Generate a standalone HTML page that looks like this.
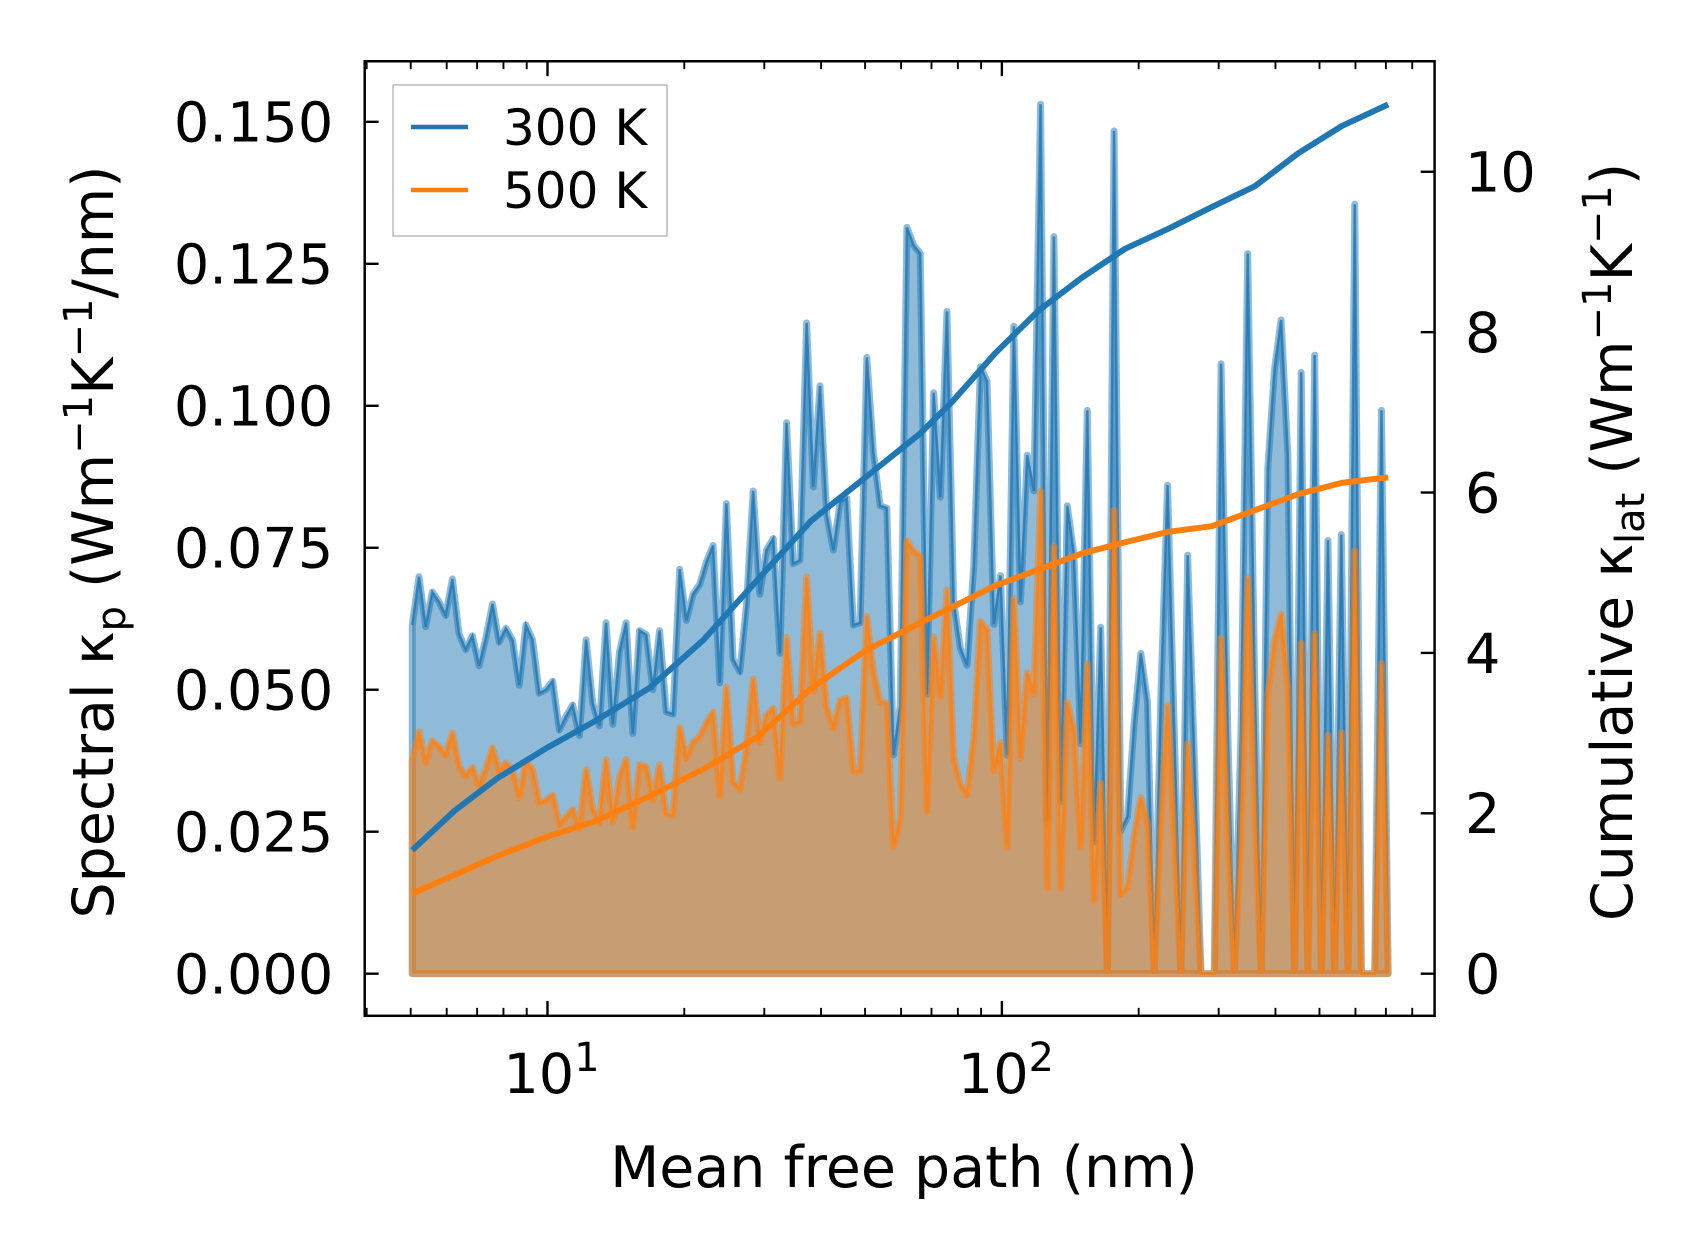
<!DOCTYPE html>
<html><head><meta charset="utf-8"><style>
html,body{margin:0;padding:0;background:#fff;}
svg{display:block;font-family:"DejaVu Sans","Liberation Sans",sans-serif;}
</style></head><body>
<svg id="chart" width="1697" height="1254" viewBox="0 0 1697 1254" xmlns="http://www.w3.org/2000/svg">
<rect width="1697" height="1254" fill="#fff"/>
<g transform="matrix(0.9945 0 0 0.9937 0.12 1.84)">
<g id="plot"></g>
<g id="axes"></g>
</g>
<g>
<rect x="393" y="85" width="274" height="151" fill="#fff" fill-opacity="0.8" stroke="#bbb" stroke-width="1.5"/>
<line x1="411" y1="127" x2="468" y2="127" stroke="#1f77b4" stroke-width="4.5"/>
<text x="503" y="145" font-size="50">300 K</text>
<line x1="411" y1="190" x2="468" y2="190" stroke="#ff7f0e" stroke-width="4.5"/>
<text x="503" y="208" font-size="50">500 K</text>
</g>
<text x="904" y="1187" font-size="57" text-anchor="middle">Mean free path (nm)</text>
<text transform="translate(113,542) rotate(-90)" font-size="57" text-anchor="middle">Spectral κ<tspan font-size="40" dy="12">p</tspan><tspan dy="-12"> (Wm</tspan><tspan font-size="40" dy="-21">−1</tspan><tspan dy="21">K</tspan><tspan font-size="40" dy="-21">−1</tspan><tspan dy="21">/nm)</tspan></text>
<text transform="translate(1632,542) rotate(-90)" font-size="57" text-anchor="middle">Cumulative κ<tspan font-size="40" dy="12">lat</tspan><tspan dy="-12"> (Wm</tspan><tspan font-size="40" dy="-21">−1</tspan><tspan dy="21">K</tspan><tspan font-size="40" dy="-21">−1</tspan><tspan dy="21">)</tspan></text>
</svg>
<script>
// ---- data ----
const mfpStart = 5.04;   // nm, first spectral bin
const mfpEnd = 708;      // nm, last spectral bin
const spectral300 = [
.0614,.0699,.0611,.0672,.0655,.0631,.0695,.0598,.0571,.0595,
.0542,.0591,.0651,.0584,.0608,.0587,.0508,.0614,.0588,.0494,
.0500,.0515,.0429,.0453,.0473,.0419,.0588,.0476,.0436,.0618,
.0439,.0567,.0618,.0423,.0604,.0597,.0500,.0604,.0461,.0457,
.0712,.0622,.0668,.0685,.0725,.0754,.0512,.0828,.0554,.0532,
.0650,.0850,.0668,.0746,.0766,.0564,.0970,.0722,.0728,.1146,
.0857,.1035,.0809,.0746,.0830,.0837,.0614,.0618,.1085,.0917,
.0824,.0820,.0385,.0472,.1314,.1283,.1268,.0492,.1023,.0839,
.1166,.0655,.0574,.0543,.0717,.1069,.1043,.0615,.0701,.0385,
.1140,.0655,.0913,.0850,.1531,.0268,.1298,.0303,.0824,.0737,
.0405,.0992,.0232,.0610,0,.1484,.0252,.0277,.0441,.0564,
.0479,0,.0492,.0860,.0431,0,.0737,.0381,0,0,
0,.1074,.0431,0,.0431,.1268,.0533,0,.0890,.1064,
.1151,.0911,0,.1059,0,.1089,0,.0763,0,.0773,
0,.1355,0,0,0,.0992,0];
const spectral500 = [
.0375,.0426,.0373,.0410,.0400,.0385,.0424,.0365,.0348,.0363,
.0331,.0361,.0397,.0356,.0371,.0358,.0310,.0375,.0359,.0301,
.0305,.0314,.0262,.0276,.0289,.0256,.0359,.0290,.0266,.0377,
.0268,.0346,.0377,.0258,.0368,.0364,.0305,.0368,.0281,.0279,
.0434,.0379,.0407,.0418,.0442,.0460,.0312,.0505,.0338,.0325,
.0397,.0519,.0407,.0455,.0467,.0344,.0592,.0440,.0444,.0699,
.0497,.0600,.0469,.0433,.0481,.0485,.0356,.0358,.0629,.0532,
.0478,.0476,.0223,.0274,.0762,.0744,.0735,.0285,.0593,.0487,
.0676,.0380,.0333,.0315,.0416,.0620,.0605,.0357,.0407,.0223,
.0661,.0380,.0530,.0493,.0850,.0150,.0753,.0150,.0478,.0427,
.0223,.0546,.0128,.0336,0,.0816,.0139,.0152,.0243,.0310,
.0263,0,.0271,.0473,.0237,0,.0405,.0210,0,0,
0,.0591,.0237,0,.0237,.0697,.0293,0,.0490,.0585,
.0633,.0501,0,.0582,0,.0599,0,.0420,0,.0425,
0,.0745,0,0,0,.0546,0];
const cumMfp = [5.04,6.24,7.77,10,12.73,16.74,22.02,28.96,38.1,50.1,65.9,77.7,96.8,120.5,150,186.7,232.6,289.6,360.6,449,559.5,708];
const cum300 = [1.54,2.03,2.44,2.82,3.15,3.56,4.16,4.91,5.65,6.19,6.73,7.13,7.74,8.27,8.68,9.04,9.29,9.56,9.82,10.23,10.57,10.84];
const cum500 = [1.00,1.23,1.47,1.71,1.90,2.21,2.55,2.95,3.56,4.03,4.37,4.57,4.84,5.04,5.24,5.38,5.51,5.58,5.78,5.98,6.12,6.19];
const leftTicks = [0,0.025,0.05,0.075,0.1,0.125,0.15];
const leftTickLabels = ["0.000","0.025","0.050","0.075","0.100","0.125","0.150"];
const rightTicks = [0,2,4,6,8,10];
const xMajorTicks = [10,100];
const xMajorExp = ["1","2"];

// ---- axes geometry ----
const L=366.6,R=1442.4,T=59.8,B=1020.4;
const X = v => 550.4 + (Math.log10(v)-1)*456.9;
const YL = v => 978 - v*5715;
const YR = v => 978 - v*80.7;
const NS="http://www.w3.org/2000/svg";
const plot=document.getElementById('plot'), axes=document.getElementById('axes');
function mk(tag,attrs,parent){const e=document.createElementNS(NS,tag);for(const k in attrs)e.setAttribute(k,attrs[k]);parent.appendChild(e);return e;}
function binX(i,n){return mfpStart*Math.pow(mfpEnd/mfpStart,i/(n-1));}

function drawSpectral(vals,color,name){
  const n=vals.length;
  let pts=vals.map((v,i)=>X(binX(i,n)).toFixed(1)+','+YL(v).toFixed(1));
  const poly=[X(binX(0,n)).toFixed(1)+','+YL(0)].concat(pts,[X(binX(n-1,n)).toFixed(1)+','+YL(0)]).join(' ');
  const f=mk('polygon',{points:poly,fill:color,'fill-opacity':0.5,stroke:color,'stroke-opacity':0.5,'stroke-width':7,'stroke-linejoin':'round'},plot);
  
  
  const l=mk('polyline',{points:pts.join(' '),fill:'none',stroke:color,'stroke-opacity':0.8,'stroke-width':2.5},plot);
  
  
}
drawSpectral(spectral300,'#1f77b4','spectral-300k');
drawSpectral(spectral500,'#ff7f0e','spectral-500k');

function drawCum(vals,color,name){
  const pts=vals.map((v,i)=>X(cumMfp[i]).toFixed(1)+','+YR(v).toFixed(1)).join(' ');
  const l=mk('polyline',{points:pts,fill:'none',stroke:color,'stroke-width':6,'stroke-linejoin':'round'},plot);
  
  
}
drawCum(cum300,'#1f77b4','cumulative-300k');
drawCum(cum500,'#ff7f0e','cumulative-500k');

// frame
const fr=mk('rect',{x:L,y:T,width:R-L,height:B-T,fill:'none',stroke:'#000','stroke-width':2.5},axes);



leftTicks.forEach((v,i)=>{
  const y=YL(v);
  const t=mk('line',{x1:L,x2:L+14,y1:y,y2:y,stroke:'#000','stroke-width':2.4},axes);
  
  
  const tx=mk('text',{x:335,y:y+20,'font-size':56,'text-anchor':'end'},axes);
  tx.textContent=leftTickLabels[i];
  
  
});
rightTicks.forEach(v=>{
  const y=YR(v);
  const t=mk('line',{x1:R-14,x2:R,y1:y,y2:y,stroke:'#000','stroke-width':2.4},axes);
  
  
  const tx=mk('text',{x:1473,y:y+20,'font-size':56},axes);
  tx.textContent=String(v);
  
  
});
xMajorTicks.forEach((v,i)=>{
  const x=X(v);
  [[B,B-15],[T,T+15]].forEach(p=>{
    const t=mk('line',{x1:x,x2:x,y1:p[0],y2:p[1],stroke:'#000','stroke-width':2.4},axes);
    
    
  });
  const tx=mk('text',{x:x+4,y:1098,'font-size':56,'text-anchor':'middle'},axes);
  tx.textContent='10';
  const sp=mk('tspan',{'font-size':40,dy:-22},tx);
  sp.textContent=xMajorExp[i];
  
  
});
[1,10,100].forEach(d=>{for(let k=2;k<=9;k++){const v=d*k;const x=X(v);if(x<L||x>R)continue;
  [[B,B-8],[T,T+8]].forEach(p=>{
    const t=mk('line',{x1:x,x2:x,y1:p[0],y2:p[1],stroke:'#000','stroke-width':1.9},axes);
    
    
  });}});
</script>
</body></html>
